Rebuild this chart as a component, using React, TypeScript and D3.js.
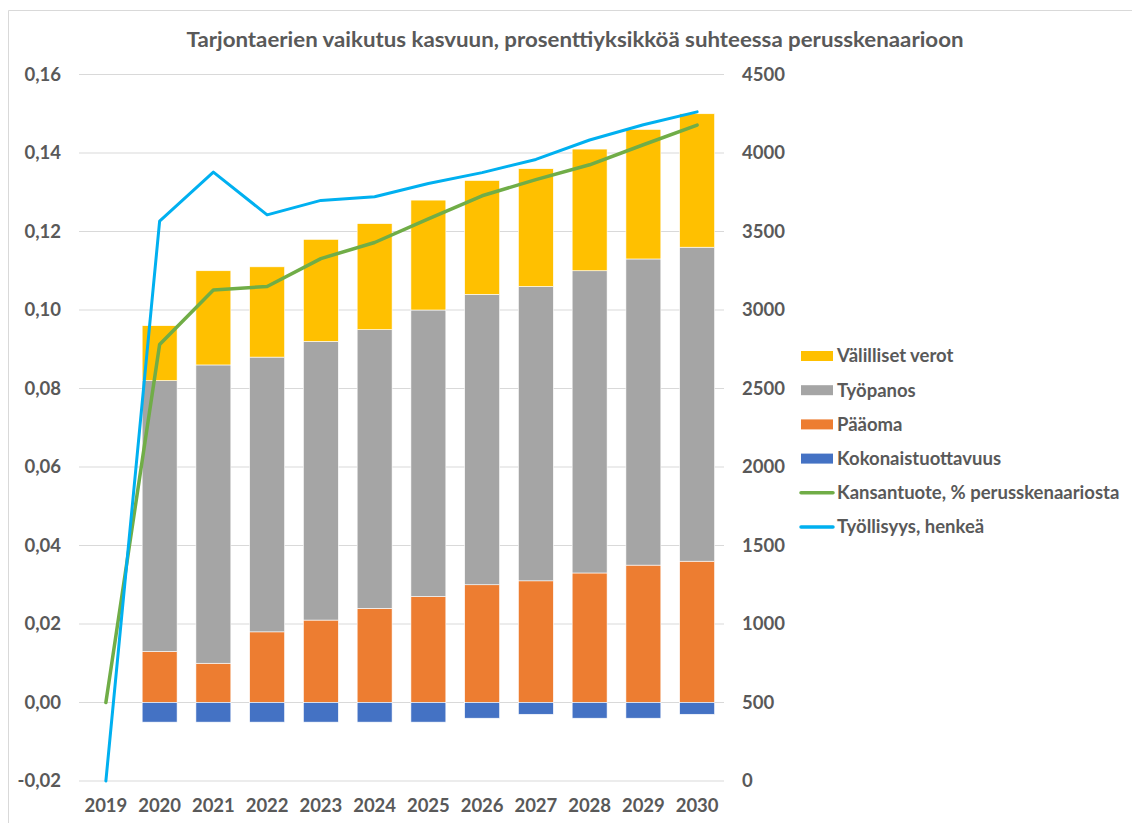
import React from "react";
import * as d3 from "d3";

const years = ["2019","2020","2021","2022","2023","2024","2025","2026","2027","2028","2029","2030"];
const kokonaistuottavuus = [0, -0.005, -0.005, -0.005, -0.005, -0.005, -0.005, -0.004, -0.003, -0.004, -0.004, -0.003];
const paaoma = [0, 0.013, 0.010, 0.018, 0.021, 0.024, 0.027, 0.030, 0.031, 0.033, 0.035, 0.036];
const tyopanos = [0, 0.069, 0.076, 0.070, 0.071, 0.071, 0.073, 0.074, 0.075, 0.077, 0.078, 0.080];
const valilliset = [0, 0.014, 0.024, 0.023, 0.026, 0.027, 0.028, 0.029, 0.030, 0.031, 0.033, 0.034];
const kansantuote = [0, 0.0912, 0.1051, 0.1060, 0.1131, 0.1172, 0.1232, 0.1291, 0.1332, 0.1370, 0.1421, 0.1471];
const tyollisyys = [0, 3566, 3878, 3606, 3698, 3721, 3806, 3875, 3959, 4083, 4180, 4262];
const leftTicks = [-0.02, 0, 0.02, 0.04, 0.06, 0.08, 0.1, 0.12, 0.14, 0.16];
const rightTicks = [0, 500, 1000, 1500, 2000, 2500, 3000, 3500, 4000, 4500];

const title = "Tarjontaerien vaikutus kasvuun, prosenttiyksikköä suhteessa perusskenaarioon";

const C = {
  yellow: "#FFC000",
  gray: "#A5A5A5",
  orange: "#ED7D31",
  blue: "#4472C4",
  green: "#70AD47",
  cyan: "#00B0F0",
  text: "#595959",
  grid: "#D9D9D9",
};

const FONT = "Lato, 'Open Sans', sans-serif";

export default function App() {
  const W = 1132, H = 823;
  const x0 = 79, x1 = 724, yTop = 74.5, yBot = 781;
  const x = d3.scaleBand<string>().domain(years).range([x0, x1]).paddingInner(0.35).paddingOuter(0.175);
  const xc = (i: number) => (x(years[i]) as number) + x.bandwidth() / 2;
  const yL = d3.scaleLinear().domain([-0.02, 0.16]).range([yBot, yTop]);
  const yR = d3.scaleLinear().domain([0, 4500]).range([yBot, yTop]);

  const stackSeries = [
    { name: "Pääoma", vals: paaoma, color: C.orange },
    { name: "Työpanos", vals: tyopanos, color: C.gray },
    { name: "Välilliset verot", vals: valilliset, color: C.yellow },
  ];

  const bars: React.ReactNode[] = [];
  years.forEach((yr, i) => {
    if (i === 0) return;
    let base = 0;
    const bx = x(yr) as number;
    const bw = x.bandwidth();
    stackSeries.forEach((s) => {
      const v = s.vals[i];
      bars.push(
        <rect key={s.name + yr} x={bx} width={bw} y={yL(base + v)} height={yL(base) - yL(base + v)}
          fill={s.color} stroke="#fff" strokeWidth={0.6} />
      );
      base += v;
    });
    const k = kokonaistuottavuus[i];
    bars.push(
      <rect key={"k" + yr} x={bx} width={bw} y={yL(0)} height={yL(k) - yL(0)} fill={C.blue} stroke="#fff" strokeWidth={0.6} />
    );
  });

  const lineL = d3.line<number>().x((_, i) => xc(i)).y((d) => yL(d));
  const lineR = d3.line<number>().x((_, i) => xc(i)).y((d) => yR(d));

  const fmtL = (v: number) => d3.format(".2f")(v).replace(".", ",").replace("−", "-");

  const legend = [
    { name: "Välilliset verot", color: C.yellow, type: "rect" },
    { name: "Työpanos", color: C.gray, type: "rect" },
    { name: "Pääoma", color: C.orange, type: "rect" },
    { name: "Kokonaistuottavuus", color: C.blue, type: "rect" },
    { name: "Kansantuote, % perusskenaariosta", color: C.green, type: "line" },
    { name: "Työllisyys, henkeä", color: C.cyan, type: "line" },
  ];
  const legY0 = 356, legDy = 34.2;
  const tickFs = 18.5;

  return (
    <svg width={W} height={H} style={{ position: "absolute", left: 0, top: 0, background: "#fff" }}
      fontFamily={FONT}>
      <rect x={0} y={0} width={W} height={H} fill="#fff" />
      <line x1={8.5} y1={10.5} x2={W} y2={10.5} stroke="#D9D9D9" strokeWidth={1} />
      <line x1={8.5} y1={10.5} x2={8.5} y2={H} stroke="#D9D9D9" strokeWidth={1} />

      <text x={575} y={47} textAnchor="middle" fontSize={21} fontWeight={700} fill={C.text}
        textLength={777} lengthAdjust="spacingAndGlyphs">{title}</text>

      {leftTicks.map((t) => (
        <line key={"g" + t} x1={x0} x2={x1} y1={yL(t)} y2={yL(t)} stroke={C.grid} strokeWidth={1.2} />
      ))}

      {leftTicks.map((t) => (
        <text key={"lt" + t} x={61} y={yL(t)} dy="0.35em" textAnchor="end" fontSize={tickFs} fontWeight={700} fill={C.text}>
          {fmtL(t)}
        </text>
      ))}
      {rightTicks.map((t) => (
        <text key={"rt" + t} x={742} y={yR(t)} dy="0.35em" textAnchor="start" fontSize={tickFs} fontWeight={700} fill={C.text}>
          {t}
        </text>
      ))}
      {years.map((yr, i) => (
        <text key={"yr" + yr} x={xc(i)} y={806} dy="0.35em" textAnchor="middle" fontSize={tickFs} fontWeight={700} fill={C.text}>
          {yr}
        </text>
      ))}

      {bars}

      <path d={lineL(kansantuote) as string} fill="none" stroke={C.green} strokeWidth={3.5} strokeLinejoin="round" strokeLinecap="round" />
      <path d={lineR(tyollisyys) as string} fill="none" stroke={C.cyan} strokeWidth={3} strokeLinejoin="round" strokeLinecap="round" />

      {legend.map((l, i) => {
        const cy = legY0 + i * legDy;
        return (
          <g key={l.name}>
            {l.type === "rect" ? (
              <rect x={801} y={cy - 5} width={32} height={10} fill={l.color} />
            ) : (
              <line x1={801} x2={833} y1={cy} y2={cy} stroke={l.color} strokeWidth={3.5} strokeLinecap="round" />
            )}
            <text x={837} y={cy} dy="0.35em" fontSize={18.5} fontWeight={700} fill={C.text}>{l.name}</text>
          </g>
        );
      })}
    </svg>
  );
}
